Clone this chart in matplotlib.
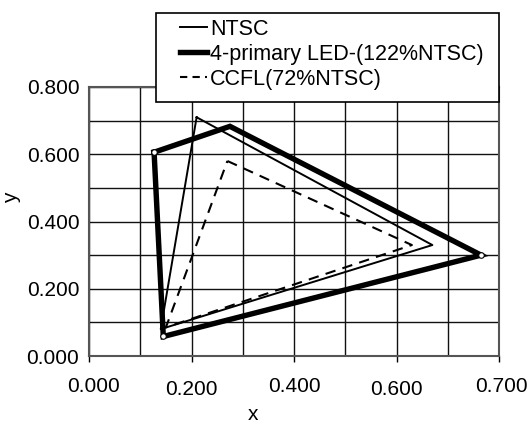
import matplotlib
matplotlib.use("Agg")
import matplotlib.pyplot as plt
import matplotlib.transforms as mtransforms
from matplotlib.lines import Line2D
from matplotlib.patches import Rectangle

plt.rcParams['font.family'] = ['Liberation Sans', 'DejaVu Sans']

# Data (CIE x, y chromaticity vertices; polygons closed)
ntsc_x = [0.21, 0.67, 0.14, 0.21]
ntsc_y = [0.71, 0.33, 0.08, 0.71]
led_x = [0.127, 0.275, 0.765, 0.145, 0.127]
led_y = [0.606, 0.683, 0.300, 0.058, 0.606]
ccfl_x = [0.27, 0.63, 0.15, 0.27]
ccfl_y = [0.58, 0.33, 0.085, 0.58]

labels = ["NTSC", "4-primary LED-(122%NTSC)", "CCFL(72%NTSC)"]
xtick_pos = [0.0, 0.2, 0.4, 0.6, 0.8]
xtick_labels = ["0.000", "0.200", "0.400", "0.600", "0.700"]
ytick_pos = [0.0, 0.2, 0.4, 0.6, 0.8]
ytick_labels = ["0.000", "0.200", "0.400", "0.600", "0.800"]
grid_pos = [0.1 * i for i in range(9)]

W, H = 530, 424
fig = plt.figure(figsize=(W / 100, H / 100), dpi=100)
ax = fig.add_axes([89 / W, 1 - 356 / H, (499 - 89) / W, (356 - 87) / H])

ax.set_xlim(0, 0.8)
ax.set_ylim(0, 0.8)
for g in grid_pos:
    ax.axvline(g, color='#111111', lw=1.0, zorder=1)
    ax.axhline(g, color='#111111', lw=1.0, zorder=1)

ntsc_style = dict(color='black', lw=1.4)
led_style = dict(color='black', lw=3.9)
ccfl_style = dict(color='black', lw=1.5, ls=(0, (5, 3.5)))

ax.plot(ntsc_x, ntsc_y, zorder=3, **ntsc_style)
ax.plot(led_x, led_y, zorder=4, solid_joinstyle='miter',
        marker='o', markersize=4, markerfacecolor='white', markeredgecolor='black',
        markeredgewidth=0.8, markevery=[0, 2, 3], **led_style)
ax.plot(ccfl_x, ccfl_y, zorder=3, **ccfl_style)

ax.set_xticks(xtick_pos)
ax.set_xticklabels(xtick_labels)
ax.set_yticks(ytick_pos)
ax.set_yticklabels(ytick_labels)
ax.tick_params(axis='x', direction='out', length=4, width=1, pad=11, labelsize=15, colors='black')
ax.tick_params(axis='y', direction='out', length=0, pad=7, labelsize=15)
for i, lab in enumerate(ax.get_xticklabels()):
    dy = -3 if xtick_labels[i] in ("0.200", "0.600") else 0
    dx = 4 if i == 0 else (2 if i == 4 else 0)
    lab.set_transform(lab.get_transform() + mtransforms.ScaledTranslation(dx / 100, dy / 100, fig.dpi_scale_trans))

for s in ax.spines.values():
    s.set_color('#555555')
    s.set_linewidth(1.5)

fig.text(253 / W, 1 - 415 / H, "x", ha='center', va='center', fontsize=15)
fig.text(12 / W, 1 - 198 / H, "y", ha='center', va='center', fontsize=15, rotation=90)

# legend frame
fig.patches.append(Rectangle((156 / W, 1 - 102 / H), (499 - 156) / W, (102 - 13) / H,
                             transform=fig.transFigure, facecolor='white', edgecolor='black',
                             lw=1.2, zorder=9))
handles = [Line2D([], [], **ntsc_style), Line2D([], [], **led_style),
           Line2D([], [], color='black', lw=1.5, ls=(0, (3.5, 2.5)))]
leg = fig.legend(handles=handles, labels=labels, loc='upper left',
                 bbox_to_anchor=(180 / W, 1 - 19 / H), bbox_transform=fig.transFigure,
                 fontsize=15.5, handlelength=1.25, handletextpad=0.15,
                 labelspacing=0.18, borderpad=0, frameon=False, borderaxespad=0)
leg.set_zorder(10)

fig.savefig("out.png", dpi=100, facecolor='white')
